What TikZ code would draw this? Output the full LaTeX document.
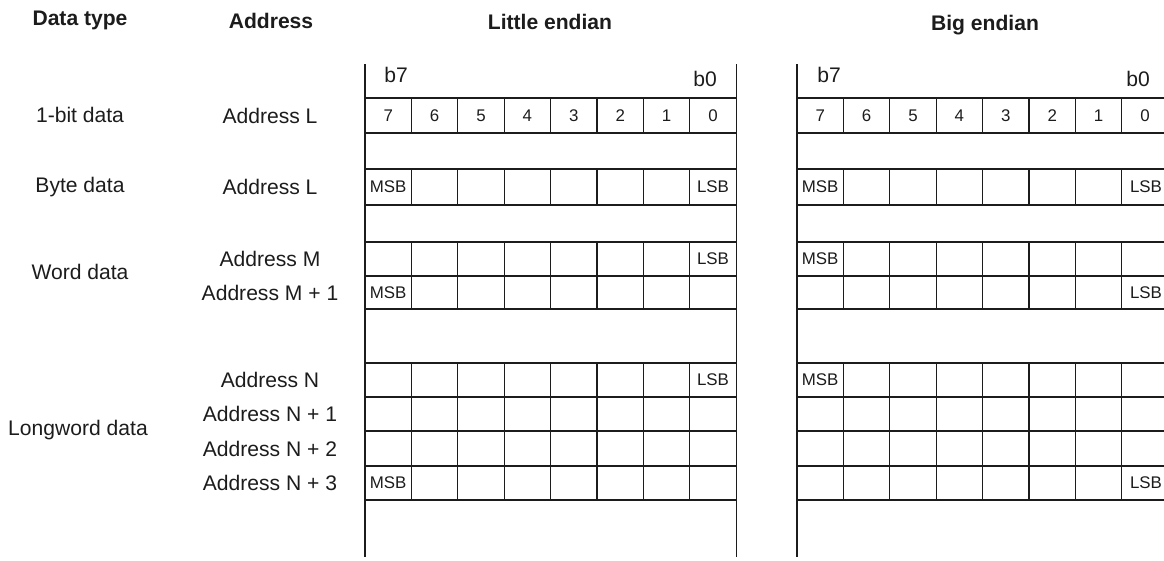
\documentclass[tikz,border=0pt]{standalone}
\usepackage{fontspec}
\setmainfont{Liberation Sans}
\definecolor{ink}{HTML}{1C1C1C}

\begin{document}
\begin{tikzpicture}[x=0.025cm,y=-0.025cm,
  head/.style={font=\bfseries\fontsize{15}{18}\selectfont,text=ink},
  lbl/.style={font=\fontsize{15}{18}\selectfont,text=ink},
  cell/.style={font=\fontsize{12}{14}\selectfont,text=ink,inner sep=0pt},
  grid/.style={draw=ink,line width=0.9pt}]
 \clip (0,0) rectangle (1164,560);
 % column heads
 \node[head] (hType) at (80,20) {Data type};
 \node[head] (hAddr) at (271,21) {Address};
 \node[head] (hLittle) at (550,22) {Little endian};
 \node[head] (hBig) at (985,25) {Big endian};
 % data types
 \node[lbl] (tBit) at (80,115) {1-bit data};
 \node[lbl] (tByte) at (80,187) {Byte data};
 \node[lbl] (tWord) at (80,272) {Word data};
 \node[lbl] (tLong) at (78,430) {Longword data};
 % addresses
 \foreach \n/\y/\s in {aL/115.5/Address L,aLb/187/Address L,aM/259/Address M,
   aM1/292.5/Address M + 1,aN/380/Address N,aN1/414/Address N + 1,
   aN2/448.5/Address N + 2,aN3/483/Address N + 3}
  \node[lbl] (\n) at (270,\y) {\s};
 % little endian
 \begin{scope}[shift={(365,0)}]
 \draw[grid] (0,64) -- (0,557);
 \draw[grid] (371.2,64) -- (371.2,557);
 \foreach \y in {98,133,169,205,242,276,309,363,397,431,466,500}
  \draw[grid] (0,\y) -- (371.2,\y);
 \foreach \t/\b in {98/133,169/205,242/309,363/500}
  \foreach \i in {1,...,7}
   \draw[grid] (\i*46.4,\t) -- (\i*46.4,\b);
 \node[lbl] (leHi) at (31,75) {b7};
 \node[lbl] (leLo) at (340,79) {b0};
 \foreach \i in {0,...,7}
  \node[cell] (leBit\i) at ({(7-\i)*46.4+23.2},115.5) {\i};
 \node[cell] (leByteM) at (23.2,187) {MSB};
 \node[cell] (leByteL) at (348,187) {LSB};
 \node[cell] (leWordL) at (348,259) {LSB};
 \node[cell] (leWordM) at (23.2,292.5) {MSB};
 \node[cell] (leLongL) at (348,380) {LSB};
 \node[cell] (leLongM) at (23.2,483) {MSB};
 \end{scope}
 % big endian
 \begin{scope}[shift={(797,0)}]
 \draw[grid] (0,64) -- (0,557);
 \draw[grid] (371.2,64) -- (371.2,557);
 \foreach \y in {98,133,169,205,242,276,309,363,397,431,466,500}
  \draw[grid] (0,\y) -- (371.2,\y);
 \foreach \t/\b in {98/133,169/205,242/309,363/500}
  \foreach \i in {1,...,7}
   \draw[grid] (\i*46.4,\t) -- (\i*46.4,\b);
 \node[lbl] (beHi) at (32,75) {b7};
 \node[lbl] (beLo) at (341,79) {b0};
 \foreach \i in {0,...,7}
  \node[cell] (beBit\i) at ({(7-\i)*46.4+23.2},115.5) {\i};
 \node[cell] (beByteM) at (23.2,187) {MSB};
 \node[cell] (beByteL) at (349,187) {LSB};
 \node[cell] (beWordM) at (23.2,259) {MSB};
 \node[cell] (beWordL) at (349,292.5) {LSB};
 \node[cell] (beLongM) at (23.2,380) {MSB};
 \node[cell] (beLongL) at (349,483) {LSB};
 \end{scope}
\end{tikzpicture}
\end{document}
